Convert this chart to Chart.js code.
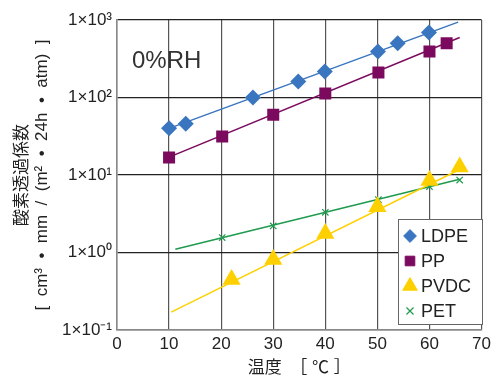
<!DOCTYPE html>
<html>
<head>
<meta charset="utf-8">
<script src="https://cdn.jsdelivr.net/npm/chart.js@4"></script>
<style>
  html, body { margin: 0; padding: 0; background: #fff; }
  #wrap { width: 495px; height: 379px; }
</style>
</head>
<body>
<div id="wrap"><canvas id="canvas_o2" width="495" height="379"></canvas></div>
<script>
var FONT = "'Liberation Sans', Arial, 'Noto Sans CJK JP', sans-serif";

// measured points
var ldpeX = [10, 13.2, 26.1, 34.8, 39.9, 50.1, 53.9, 59.9];
var ldpeY = [40, 46, 100, 161, 216, 392, 500, 690];
var ppX = [10, 20.2, 30, 40, 50.2, 60, 63.3];
var ppY = [16.8, 31.4, 60, 113, 210, 393, 500];
var pvdcX = [22, 30, 40, 50, 60, 65.8];
var pvdcY = [0.45, 0.81, 1.76, 3.9, 8.5, 12.7];
var petX = [20.2, 30, 40, 50.2, 60, 65.8];
var petY = [1.56, 2.2, 3.3, 4.8, 7.1, 8.6];

// approximate lines (start, end)
var ldpeFitX = [10, 65.5];
var ldpeFitY = [40, 940];
var ppFitX = [10, 65.8];
var ppFitY = [17, 594];
var pvdcFitX = [10.4, 65.5];
var pvdcFitY = [0.17, 11.5];
var petFitX = [11.2, 65.8];
var petFitY = [1.1, 8.8];

var yTicks = [0.1, 1, 10, 100, 1000];
var yTickLabels = ['1×10⁻¹', '1×10⁰', '1×10¹', '1×10²', '1×10³'];

function pts(xs, ys) {
  return xs.map(function (x, i) { return {x: x, y: ys[i]}; });
}

var series = [
  {label: 'LDPE', x: ldpeX, y: ldpeY, fx: ldpeFitX, fy: ldpeFitY, color: '#3a75c0', style: 'rectRot', r: 8},
  {label: 'PP', x: ppX, y: ppY, fx: ppFitX, fy: ppFitY, color: '#7b0a5e', style: 'rect', r: 8.5},
  {label: 'PVDC', x: pvdcX, y: pvdcY, fx: pvdcFitX, fy: pvdcFitY, color: '#ffd000', style: 'triangle', r: 10.5},
  {label: 'PET', x: petX, y: petY, fx: petFitX, fy: petFitY, color: '#1f9a4f', style: 'crossRot', r: 4.5}
];

var datasets = [];
series.forEach(function (s) {
  datasets.push({
    label: s.label + ' fit',
    data: pts(s.fx, s.fy),
    showLine: true,
    borderColor: s.color,
    borderWidth: 1.5,
    pointRadius: 0,
    order: 2
  });
});
series.forEach(function (s) {
  datasets.push({
    label: s.label,
    data: pts(s.x, s.y),
    showLine: false,
    pointStyle: s.style,
    pointRadius: s.r,
    pointHoverRadius: s.r,
    backgroundColor: s.color,
    borderColor: s.color,
    pointBorderWidth: s.style == 'crossRot' ? 1.2 : 0,
    order: 1
  });
});

// legend box inside plot + the 0%RH note
var decorations = {
  id: 'decorations',
  afterDraw: function (chart) {
    var ctx = chart.ctx;
    var a = chart.chartArea;
    ctx.save();
    ctx.fillStyle = '#333';
    ctx.font = '24px ' + FONT;
    ctx.textBaseline = 'middle';
    ctx.textAlign = 'left';
    ctx.fillText('0%RH', a.left + 15, a.top + 41);

    var bx = a.left + 281, by = a.top + 199, bw = 84, bh = 105;
    ctx.fillStyle = '#fff';
    ctx.fillRect(bx, by, bw, bh);
    ctx.strokeStyle = '#666';
    ctx.lineWidth = 1;
    ctx.strokeRect(bx + 0.5, by + 0.5, bw, bh);
    ctx.font = '18px ' + FONT;
    series.forEach(function (s, i) {
      var cy = by + 17 + i * 25;
      ctx.fillStyle = s.color;
      ctx.strokeStyle = s.color;
      ctx.lineWidth = s.style == 'crossRot' ? 1.2 : 0;
      Chart.helpers.drawPoint(ctx, {
        pointStyle: s.style,
        radius: s.style == 'crossRot' ? 5 : s.r * 0.8,
        borderWidth: ctx.lineWidth
      }, bx + 12, cy);
      ctx.fillStyle = '#222';
      ctx.fillText(s.label, bx + 23, cy + 1);
    });
    ctx.restore();
  }
};

var ctx = document.getElementById('canvas_o2');
var o2Chart = new Chart(ctx, {
  type: 'scatter',
  data: {datasets: datasets},
  plugins: [decorations],
  options: {
    responsive: false,
    animation: false,
    layout: {padding: {top: 20, right: 8, left: 0, bottom: 0}},
    plugins: {
      legend: {display: false},
      tooltip: {enabled: false}
    },
    scales: {
      x: {
        type: 'linear',
        min: 0,
        max: 70,
        ticks: {stepSize: 10, color: '#222', font: {size: 17, family: FONT}, padding: 4, maxRotation: 0},
        grid: {color: '#555', lineWidth: 1.2, drawTicks: false},
        border: {color: '#888', width: 1.5},
        title: {display: true, text: '温度　［ ℃ ］', color: '#222', font: {size: 17, family: FONT}, padding: {top: 0, bottom: 0}},
        afterFit: function (scale) { scale.height = 49; }
      },
      y: {
        type: 'logarithmic',
        min: 0.1,
        max: 1000,
        afterBuildTicks: function (scale) {
          scale.ticks = yTicks.map(function (v) { return {value: v}; });
        },
        ticks: {
          color: '#222',
          font: {size: 17, family: FONT},
          padding: 5,
          callback: function (v) {
            var i = yTicks.indexOf(v);
            return i >= 0 ? yTickLabels[i] : '';
          }
        },
        grid: {color: '#222', lineWidth: 1.2, drawTicks: false},
        border: {color: '#888', width: 1.5},
        title: {
          display: true,
          text: ['酸素透過係数', '[  cm³  •  mm  /  (m²  •  24h  •  atm)  ]'],
          color: '#222',
          font: {size: 17, family: FONT, lineHeight: 1.2},
          padding: {top: 12, bottom: 0}
        },
        afterFit: function (scale) { scale.width = 117; }
      }
    }
  }
});
</script>
</body>
</html>
